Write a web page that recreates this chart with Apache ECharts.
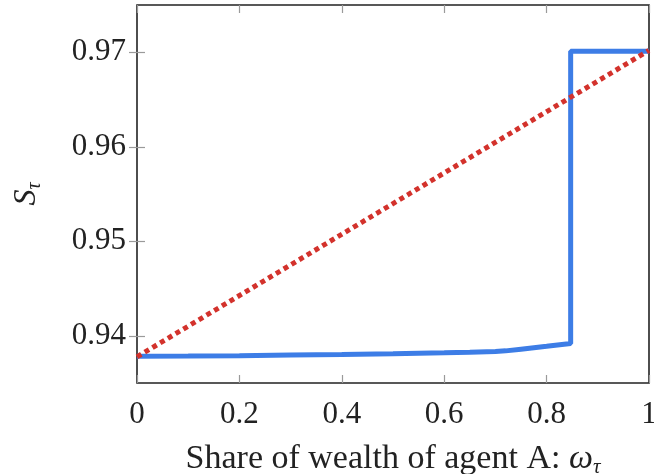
<!DOCTYPE html>
<html><head><meta charset="utf-8">
<script src="https://cdn.jsdelivr.net/npm/echarts@6/dist/echarts.min.js"></script>
<style>html,body{margin:0;padding:0;background:#fff}#c{width:654px;height:474px}</style>
</head><body><div id="c"></div>
<script>
const blueX = [0, 0.1, 0.2, 0.3, 0.4, 0.5, 0.6, 0.65, 0.7, 0.72, 0.75, 0.8, 0.847, 0.847, 0.9, 1];
const blueY = [0.93783, 0.93785, 0.93788, 0.93795, 0.93802, 0.9381, 0.9382, 0.93826, 0.93834, 0.9384, 0.93858, 0.93888, 0.93918, 0.9701, 0.9701, 0.9701];
const redX = [0, 1];
const redY = [0.93777, 0.9702];
const xTicks = [0, 0.2, 0.4, 0.6, 0.8, 1];
const yTicks = [0.94, 0.95, 0.96, 0.97];

const serif = 'Liberation Serif';
const fs = 31;
const chart = echarts.init(document.getElementById('c'));
const tickStyle = {show: true, inside: true, length: 8, lineStyle: {color: '#9a9a9a', width: 1.2}};
chart.setOption({
  animation: false,
  grid: {left: 137, right: 5, top: 5, bottom: 91, show: true, borderColor: '#222', borderWidth: 1.6, backgroundColor: 'transparent', outerBoundsMode: 'none', containLabel: false},
  xAxis: [{
    type: 'value', min: 0, max: 1, interval: 0.2,
    axisLine: {show: false}, splitLine: {show: false},
    axisTick: Object.assign({}, tickStyle, {customValues: xTicks}),
    axisLabel: {customValues: xTicks, margin: 16, color: '#222', fontFamily: serif, fontSize: fs, formatter: v => String(+v.toFixed(1))},
    name: 'Share of wealth of agent A: {w|ω}{s|τ}', nameLocation: 'middle', nameGap: 58,
    nameTextStyle: {color: '#222', fontFamily: serif, fontSize: 34,
      rich: {w: {fontFamily: serif, fontSize: 34, fontStyle: 'italic', color: '#222'},
             s: {fontFamily: serif, fontSize: 21, fontStyle: 'italic', color: '#222', padding: [16, 0, 0, 0]}}}
  }, {
    type: 'value', min: 0, max: 1, interval: 0.2, position: 'top',
    axisLine: {show: false}, splitLine: {show: false},
    axisTick: Object.assign({}, tickStyle, {customValues: xTicks}), axisLabel: {show: false}
  }],
  yAxis: [{
    type: 'value', min: 0.935, max: 0.975,
    axisLine: {show: false}, splitLine: {show: false},
    axisTick: Object.assign({}, tickStyle, {customValues: yTicks}),
    axisLabel: {customValues: yTicks, margin: 11, color: '#222', fontFamily: serif, fontSize: fs, formatter: v => v.toFixed(2)},
    name: '{i|S}{s|τ}', nameLocation: 'middle', nameGap: 92, nameRotate: 90,
    nameTextStyle: {color: '#222', fontFamily: serif, fontSize: fs,
      rich: {i: {fontFamily: serif, fontSize: 32, fontStyle: 'italic', color: '#222'},
             s: {fontFamily: serif, fontSize: 20, fontStyle: 'italic', color: '#222', padding: [16, 0, 0, 0]}}}
  }, {
    type: 'value', min: 0.935, max: 0.975, position: 'right',
    axisLine: {show: false}, splitLine: {show: false},
    axisTick: Object.assign({}, tickStyle, {customValues: yTicks}), axisLabel: {show: false}
  }],
  series: [{
    type: 'line', xAxisIndex: 0, yAxisIndex: 0, symbol: 'none',
    data: blueX.map((x, i) => [x, blueY[i]]),
    lineStyle: {color: '#3d7de6', width: 5}
  }, {
    type: 'line', xAxisIndex: 0, yAxisIndex: 0, symbol: 'none',
    data: redX.map((x, i) => [x, redY[i]]),
    lineStyle: {color: '#d3322c', width: 5, type: [5, 4]}
  }]
});
</script></body></html>
